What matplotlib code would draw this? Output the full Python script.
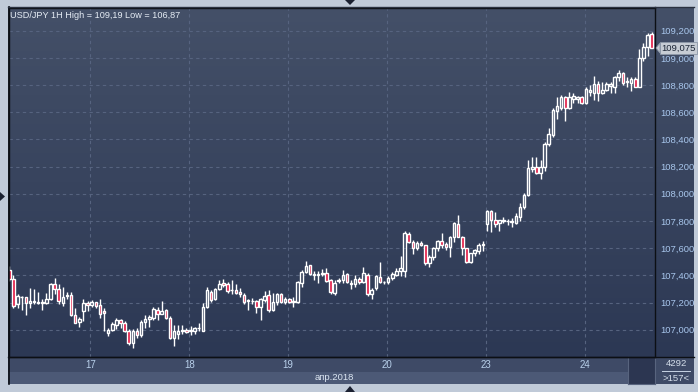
import matplotlib
matplotlib.use('Agg')
import matplotlib.pyplot as plt
import numpy as np
from matplotlib.lines import Line2D
from matplotlib.patches import Polygon
from matplotlib.ticker import FuncFormatter

plt.rcParams['font.family'] = ['Liberation Sans', 'DejaVu Sans']

W, H = 698, 392

# USD/JPY hourly bars (16.04 - 24.04.2018)
opens = [107.440, 107.371, 107.192, 107.238, 107.241, 107.200, 107.205, 107.198, 107.200, 107.200,
         107.229, 107.336, 107.302, 107.200, 107.250, 107.253, 107.110, 107.057, 107.138, 107.200,
         107.185, 107.204, 107.180, 107.135, 106.974, 107.000, 107.037, 107.071, 107.052, 106.990,
         106.905, 106.988, 106.960, 107.055, 107.077, 107.086, 107.145, 107.115, 107.142, 107.090,
         106.940, 106.970, 106.993, 107.000, 106.990, 106.990, 107.010, 106.994, 107.170, 107.280,
         107.227, 107.300, 107.347, 107.337, 107.290, 107.293, 107.276, 107.256, 107.220, 107.215,
         107.212, 107.170, 107.220, 107.256, 107.146, 107.202, 107.261, 107.202, 107.227, 107.207,
         107.207, 107.347, 107.428, 107.477, 107.410, 107.404, 107.410, 107.416, 107.367, 107.270,
         107.357, 107.367, 107.409, 107.345, 107.335, 107.372, 107.355, 107.404, 107.264, 107.306,
         107.387, 107.350, 107.355, 107.380, 107.404, 107.430, 107.436, 107.705, 107.642, 107.600,
         107.637, 107.622, 107.490, 107.534, 107.600, 107.654, 107.630, 107.607, 107.681, 107.779,
         107.681, 107.600, 107.500, 107.563, 107.576, 107.622, 107.776, 107.874, 107.806, 107.784,
         107.803, 107.800, 107.793, 107.789, 107.828, 107.900, 107.990, 108.185, 108.200, 108.150,
         108.200, 108.367, 108.430, 108.612, 108.629, 108.710, 108.634, 108.696, 108.700, 108.710,
         108.666, 108.750, 108.744, 108.808, 108.744, 108.763, 108.793, 108.788, 108.857, 108.886,
         108.822, 108.818, 108.842, 108.788, 108.996, 109.082, 109.173]
highs = [107.470, 107.400, 107.263, 107.245, 107.243, 107.305, 107.297, 107.275, 107.224, 107.268,
         107.346, 107.383, 107.336, 107.317, 107.277, 107.277, 107.160, 107.091, 107.224, 107.209,
         107.219, 107.206, 107.224, 107.157, 107.010, 107.057, 107.089, 107.081, 107.062, 107.008,
         107.003, 107.013, 107.069, 107.106, 107.106, 107.170, 107.165, 107.211, 107.155, 107.101,
         107.033, 107.033, 107.033, 107.016, 107.030, 107.023, 107.053, 107.195, 107.318, 107.293,
         107.306, 107.367, 107.372, 107.354, 107.367, 107.335, 107.306, 107.269, 107.224, 107.232,
         107.220, 107.232, 107.288, 107.293, 107.269, 107.269, 107.269, 107.239, 107.232, 107.244,
         107.359, 107.440, 107.509, 107.480, 107.436, 107.436, 107.445, 107.457, 107.372, 107.365,
         107.378, 107.440, 107.416, 107.367, 107.404, 107.387, 107.460, 107.416, 107.310, 107.404,
         107.495, 107.362, 107.392, 107.426, 107.453, 107.544, 107.723, 107.718, 107.661, 107.656,
         107.654, 107.625, 107.551, 107.612, 107.661, 107.710, 107.649, 107.691, 107.796, 107.845,
         107.691, 107.605, 107.568, 107.595, 107.637, 107.654, 107.882, 107.882, 107.867, 107.808,
         107.833, 107.813, 107.820, 107.862, 107.936, 108.004, 108.249, 108.268, 108.270, 108.249,
         108.384, 108.487, 108.630, 108.710, 108.727, 108.720, 108.749, 108.744, 108.720, 108.722,
         108.788, 108.800, 108.866, 108.832, 108.825, 108.823, 108.825, 108.867, 108.911, 108.898,
         108.862, 108.857, 108.862, 109.062, 109.107, 109.185, 109.193]
lows = [107.360, 107.157, 107.160, 107.145, 107.111, 107.157, 107.187, 107.190, 107.148, 107.192,
        107.219, 107.260, 107.187, 107.175, 107.230, 107.101, 107.047, 107.023, 107.064, 107.138,
        107.170, 107.160, 107.089, 106.990, 106.954, 106.990, 107.008, 107.010, 106.983, 106.888,
        106.866, 106.942, 106.949, 107.015, 107.023, 107.069, 107.072, 107.113, 107.077, 106.936,
        106.881, 106.932, 106.970, 106.974, 106.965, 106.970, 106.990, 106.990, 107.158, 107.207,
        107.220, 107.295, 107.313, 107.274, 107.261, 107.261, 107.244, 107.190, 107.146, 107.190,
        107.126, 107.072, 107.207, 107.134, 107.138, 107.183, 107.200, 107.190, 107.200, 107.166,
        107.200, 107.318, 107.416, 107.403, 107.367, 107.347, 107.396, 107.355, 107.264, 107.255,
        107.343, 107.343, 107.343, 107.300, 107.313, 107.338, 107.343, 107.250, 107.225, 107.294,
        107.343, 107.338, 107.338, 107.367, 107.392, 107.392, 107.387, 107.637, 107.558, 107.588,
        107.613, 107.477, 107.465, 107.514, 107.583, 107.605, 107.588, 107.539, 107.649, 107.681,
        107.551, 107.490, 107.490, 107.544, 107.558, 107.576, 107.730, 107.718, 107.759, 107.730,
        107.784, 107.774, 107.755, 107.779, 107.800, 107.887, 107.985, 108.158, 108.148, 108.110,
        108.170, 108.354, 108.416, 108.551, 108.617, 108.539, 108.622, 108.671, 108.671, 108.661,
        108.661, 108.720, 108.690, 108.686, 108.734, 108.759, 108.744, 108.744, 108.832, 108.800,
        108.788, 108.759, 108.783, 108.783, 108.980, 109.016, 109.070]
closes = [107.372, 107.175, 107.248, 107.243, 107.194, 107.210, 107.209, 107.205, 107.202, 107.229,
          107.334, 107.302, 107.211, 107.243, 107.255, 107.106, 107.052, 107.081, 107.200, 107.185,
          107.206, 107.175, 107.113, 107.126, 106.996, 107.040, 107.071, 107.052, 106.988, 106.905,
          106.988, 106.959, 107.057, 107.081, 107.096, 107.150, 107.116, 107.140, 107.089, 106.942,
          106.989, 106.990, 106.995, 106.985, 106.997, 107.010, 107.015, 107.166, 107.293, 107.222,
          107.301, 107.340, 107.328, 107.288, 107.293, 107.269, 107.261, 107.207, 107.215, 107.210,
          107.170, 107.224, 107.252, 107.146, 107.202, 107.261, 107.207, 107.227, 107.207, 107.215,
          107.354, 107.428, 107.470, 107.411, 107.404, 107.411, 107.420, 107.360, 107.276, 107.345,
          107.365, 107.404, 107.355, 107.340, 107.372, 107.352, 107.416, 107.264, 107.290, 107.392,
          107.348, 107.355, 107.380, 107.409, 107.433, 107.453, 107.710, 107.649, 107.600, 107.637,
          107.622, 107.490, 107.539, 107.600, 107.654, 107.620, 107.607, 107.686, 107.784, 107.686,
          107.600, 107.495, 107.563, 107.585, 107.625, 107.629, 107.874, 107.808, 107.776, 107.806,
          107.806, 107.798, 107.796, 107.835, 107.906, 107.990, 108.188, 108.198, 108.150, 108.200,
          108.367, 108.438, 108.617, 108.646, 108.710, 108.634, 108.715, 108.720, 108.710, 108.666,
          108.769, 108.765, 108.808, 108.744, 108.762, 108.805, 108.805, 108.857, 108.886, 108.813,
          108.830, 108.842, 108.788, 108.996, 109.082, 109.168, 109.075]

day_bars = [20, 44, 68, 92, 116, 140]
day_labels = ['17', '18', '19', '20', '23', '24']
price_ticks = [107.0, 107.2, 107.4, 107.6, 107.8, 108.0, 108.2, 108.4, 108.6, 108.8, 109.0, 109.2]
last_price = 109.075


def px(x0, y0, x1, y1):
    # pixel box (top-left origin) -> figure fraction rect
    return [x0 / W, 1 - y1 / H, (x1 - x0) / W, (y1 - y0) / H]


def panel(box, color):
    a = fig.add_axes(px(*box))
    a.set_facecolor(color)
    a.set_xticks([])
    a.set_yticks([])
    for s in a.spines.values():
        s.set_visible(False)
    return a


fig = plt.figure(figsize=(W / 100, H / 100), dpi=100)
fig.patch.set_facecolor('#c0cad8')

# chart background with vertical gradient (plot + right price scale)
bg = panel((8, 7, 694, 357), 'none')
top_c = np.array([68, 80, 104]) / 255
bot_c = np.array([44, 56, 84]) / 255
t = np.linspace(0, 1, 256)[:, None]
grad = (top_c * (1 - t) + bot_c * t)[:, None, :]
bg.imshow(grad, aspect='auto', extent=[0, 1, 0, 1])

panel((8, 357, 694, 372), '#3e4a66')
panel((8, 372, 628, 384), '#4c5976')
panel((655, 357, 694, 384), '#3e4a66')
thumb = panel((628, 357, 655, 384), '#2c3651')
for s in thumb.spines.values():
    s.set_visible(True)
    s.set_color('#58647e')

ax = fig.add_axes(px(8.5, 7.5, 655, 357))
ax.patch.set_alpha(0)

o = np.array(opens)
h = np.array(highs)
l = np.array(lows)
c = np.array(closes)
x = np.arange(len(o))
up = c >= o
top = np.maximum(o, c)
bot = np.minimum(o, c)
body = np.maximum(top - bot, 0.004)

ax.vlines(x, top, h, color='white', lw=1, zorder=3)
ax.vlines(x, l, bot, color='white', lw=1, zorder=3)
ax.bar(x[up], body[up], bottom=bot[up], width=0.62, facecolor='none',
       edgecolor='white', lw=1, zorder=4)
ax.bar(x[~up], body[~up], bottom=bot[~up], width=0.62, facecolor='#e0103c',
       edgecolor='white', lw=1, zorder=4)

ax.set_xlim(-0.2, 156.8)
ax.set_ylim(106.80, 109.37)

ax.yaxis.tick_right()
ax.set_yticks(price_ticks)
ax.yaxis.set_major_formatter(FuncFormatter(lambda v, p: f"{v:.3f}".replace('.', ',')))
ax.tick_params(axis='y', length=0, pad=4, labelsize=6.8, labelcolor='#a8c6ec')

ax.set_xticks([d - 0.3 for d in day_bars])
ax.set_xticklabels(day_labels)
ax.tick_params(axis='x', length=0, pad=2.5, labelsize=7, labelcolor='#b8d0ea')

ax.grid(True, color='#56637f', ls=(0, (3, 3)), lw=0.8)
ax.set_axisbelow(True)
for s in ax.spines.values():
    s.set_color('#0c0f14')
    s.set_linewidth(1)

# title
fig.text(10 / W, 1 - 15 / H, 'USD/JPY 1H High = 109,19 Low = 106,87',
         fontsize=6.6, color='#e6edf5', ha='left', va='center')

# last price tag
fig.text(661 / W, 1 - 48 / H, '109,075', fontsize=6.8, color='#1c2636',
         ha='left', va='center',
         bbox=dict(boxstyle='square,pad=0.15', fc='#c6ccd4', ec='#8d98a8', lw=0.6))
fig.patches.append(Polygon([[656 / W, 1 - 48 / H], [660 / W, 1 - 43 / H], [660 / W, 1 - 53 / H]],
                           closed=True, fc='#c6ccd4', ec='#8d98a8', lw=0.6,
                           transform=fig.transFigure, figure=fig))

# bottom texts
fig.text(334 / W, 1 - 378 / H, 'апр.2018', fontsize=6.8, color='#dce6f2', ha='center', va='center')
fig.text(676 / W, 1 - 364 / H, '4292', fontsize=6.8, color='#d4deea', ha='center', va='center')
fig.text(676 / W, 1 - 378.5 / H, '>157<', fontsize=6.8, color='#d4deea', ha='center', va='center')
fig.lines.append(Line2D([662 / W, 690 / W], [1 - 370.5 / H, 1 - 370.5 / H], color='#c8d4e4',
                        lw=0.7, transform=fig.transFigure, figure=fig))

# frame lines
fig.lines.append(Line2D([8.5 / W, 8.5 / W], [1 - 7 / H, 1 - 384 / H], color='#0c0f14', lw=1.2,
                        transform=fig.transFigure, figure=fig))
fig.lines.append(Line2D([8 / W, 694 / W], [1 - 357 / H, 1 - 357 / H], color='#0c0f14', lw=1,
                        transform=fig.transFigure, figure=fig))
fig.lines.append(Line2D([8 / W, 694 / W], [1 - 7 / H, 1 - 7 / H], color='#2a3140', lw=1,
                        transform=fig.transFigure, figure=fig))

# small navigation triangles on the frame
for pts in ([[345, 0], [355, 0], [350, 5]],
            [[345, 392], [355, 392], [350, 386]],
            [[0, 192], [0, 201], [5, 196.5]]):
    fig.patches.append(Polygon([[a / W, 1 - b / H] for a, b in pts], closed=True,
                               fc='#1a2030', ec='none', transform=fig.transFigure, figure=fig))

fig.savefig('out.png', dpi=100, facecolor=fig.get_facecolor())
